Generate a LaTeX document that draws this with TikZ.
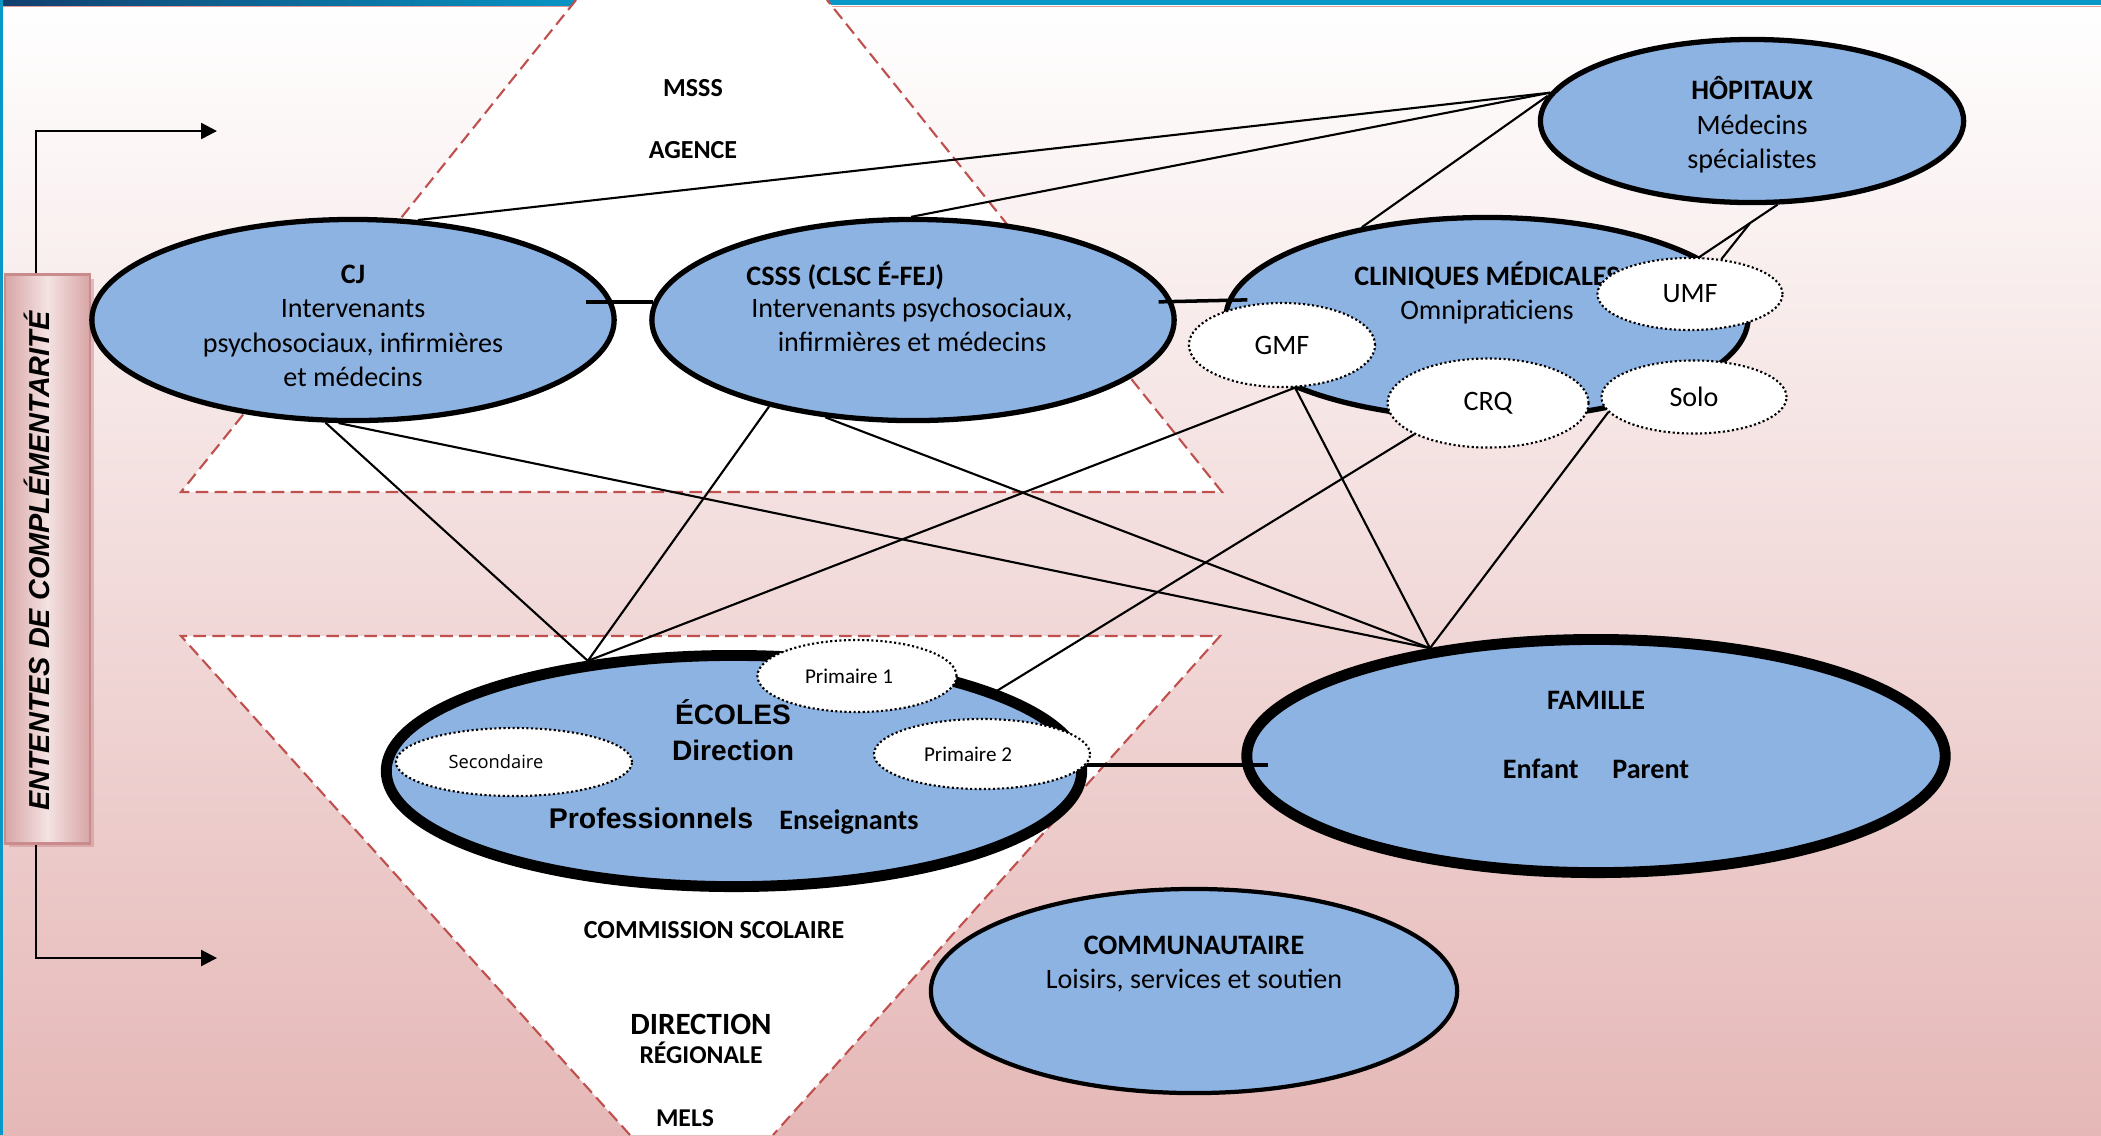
\documentclass[tikz,border=0pt]{standalone}
\usepackage{fontspec}
\setmainfont{Carlito}
\newfontfamily\arialfont{Liberation Sans}
\newfontfamily\opensansfont{Open Sans}
\usetikzlibrary{arrows.meta,shapes.geometric,shadows}
\definecolor{ovalblue}{HTML}{8DB3E2}
\definecolor{pinkbg}{HTML}{E5B8B7}
\definecolor{zonered}{HTML}{C0504D}
\definecolor{bandblue}{HTML}{0798C8}
\definecolor{bandnavy}{HTML}{123F6E}
\definecolor{framepink}{HTML}{E59A9A}
\definecolor{boxlight}{HTML}{F4E2E2}
\definecolor{boxdark}{HTML}{D8A5A6}
\definecolor{boxedge}{HTML}{C98B8C}

\begin{document}
\begin{tikzpicture}[x=0.01cm, y=-0.01cm, >={Triangle[length=4.5pt, width=4.5pt]}]
	\tikzstyle{every node}=[font=\fontsize{8}{9.8}\selectfont]
	\tikzstyle{bigoval}=[ellipse, draw, line width=1.5pt, fill=ovalblue, inner sep=0pt, minimum width=5.22cm, minimum height=2.01cm]
	\tikzstyle{heavyoval}=[bigoval, line width=3.1pt]
	\tikzstyle{subov}=[ellipse, draw, fill=white, line width=0.6pt, dash pattern=on 0.6pt off 0.7pt, inner sep=0pt]
	\tikzstyle{zone}=[fill=white, draw=zonered, line width=0.6pt, dash pattern=on 3.6pt off 1.8pt]
	\tikzstyle{link}=[line width=0.6pt]
	\tikzstyle{bar}=[line width=1pt]
	\tikzstyle{lvl}=[font=\bfseries\fontsize{7.4}{9}\selectfont]
	\tikzstyle{entbox}=[rectangle, draw=boxedge, line width=0.8pt, left color=boxdark, right color=boxdark, middle color=boxlight, inner sep=0pt, minimum width=0.85cm, minimum height=5.68cm, drop shadow={shadow xshift=0.04cm, shadow yshift=-0.04cm, fill=boxedge, opacity=0.5}]

	% fond
	\useasboundingbox (0,0) rectangle (2101,1135);
	\shade[top color=white, bottom color=pinkbg] (0,0) rectangle (2101,1135);
	\shade[left color=bandnavy, right color=bandblue] (0,0) rectangle (600,5);
	\fill[bandblue] (600,0) rectangle (2101,5);
	\draw[framepink, line width=0.5pt] (0,6.5) -- (2101,6.5);
	\fill[bandblue] (0,0) rectangle (2.5,1135);

	% zones MSSS / MELS
	\filldraw[zone] (576,0) -- (181,492) -- (1222,492) -- (827,0);
	\filldraw[zone] (630,1135) -- (181,636) -- (1220,636) -- (773,1135);

	% ententes
	\node[entbox] (ententes) at (47.5,559) {};
	\node[rotate=90, font=\arialfont\bfseries\itshape\fontsize{8.2}{10}\selectfont] (entlabel) at (37,561) {ENTENTES DE COMPLÉMENTARITÉ};
	\coordinate (uptip) at (217,131);
	\coordinate (downtip) at (217,958);
	\draw[line width=0.7pt, ->] ([xshift=-0.115cm]ententes.north) |- (uptip);
	\draw[line width=0.7pt, ->] ([xshift=-0.115cm]ententes.south) |- (downtip);

	% ovales
	\node[bigoval, minimum width=4.23cm, minimum height=1.63cm] (hop) at (1752,121) {};
	\node[bigoval] (cj) at (353,320) {};
	\node[bigoval] (csss) at (913,320) {};
	\node[bigoval] (clin) at (1487,318) {};
	\node[heavyoval, minimum width=6.98cm, minimum height=2.33cm] (famille) at (1596,756) {};
	\node[bigoval, line width=1.2pt, minimum width=5.26cm, minimum height=2.04cm] (comm) at (1194,991) {};
	\node[heavyoval, minimum width=6.95cm, minimum height=2.31cm] (ecoles) at (734,771) {};

	\node[align=center] (hoptxt) at (1752,125) {\textbf{HÔPITAUX}\\Médecins\\spécialistes};
	\node[align=center] (cjtxt) at (353,326) {\textbf{CJ}\\Intervenants\\psychosociaux, infirmières\\et médecins};
	\node[anchor=west, font=\bfseries\fontsize{8}{9.8}\selectfont] (cssstitle) at (734,276) {CSSS (CLSC É-FEJ)};
	\node[align=center] (cssstxt) at (912,325) {Intervenants psychosociaux,\\infirmières et médecins};
	\node[align=center] (clintxt) at (1487,293) {\textbf{CLINIQUES MÉDICALES}\\Omnipraticiens};
	\node[align=center, font=\bfseries\fontsize{8}{9.8}\selectfont] (famtxt) at (1596,735) {FAMILLE\\[10pt]Enfant\hspace{1.2em}Parent};
	\node[align=center] (commtxt) at (1194,964) {\textbf{COMMUNAUTAIRE}\\Loisirs, services et soutien};
	\node[align=center, font=\arialfont\bfseries\fontsize{8}{10.2}\selectfont] (ecotxt) at (733,730) {ÉCOLES\\Direction};
	\node[font=\arialfont\bfseries\fontsize{8.1}{10}\selectfont] (pro) at (651,818) {Professionnels};
	\node[font=\bfseries\fontsize{8}{9.8}\selectfont] (ens) at (849,822) {Enseignants};

	\node[subov, minimum width=1.86cm, minimum height=0.84cm] (gmf) at (1282,345) {GMF};
	\node[subov, minimum width=1.85cm, minimum height=0.72cm] (umf) at (1690,294) {UMF};
	\node[subov, minimum width=2.01cm, minimum height=0.89cm] (crq) at (1488,403) {CRQ};
	\node[subov, minimum width=1.85cm, minimum height=0.73cm] (solo) at (1694,397) {Solo};
	\node[subov, minimum width=2.36cm, minimum height=0.68cm, font=\opensansfont\fontsize{5.2}{6}\selectfont] (sec) at (514,762) {\hspace*{-0.36cm}Secondaire};
	\node[subov, minimum width=1.99cm, minimum height=0.72cm, font=\fontsize{6}{7}\selectfont] (prim1) at (857,676) {\hspace*{-0.16cm}Primaire 1};
	\node[subov, minimum width=2.16cm, minimum height=0.70cm, font=\fontsize{6}{7}\selectfont] (prim2) at (982,754) {\hspace*{-0.28cm}Primaire 2};

	% liens
	\draw[bar] ([xshift=-0.27cm]cj.4) -- (csss.176);
	\draw[bar] ([xshift=-0.14cm]csss.4) -- ([xshift=0.2cm]clin.176);
	\draw[bar] (ecoles.1) -- ([xshift=0.27cm]ecoles.1 -| famille.west);
	\draw[link] (cj.57) -- (hop.172);
	\draw[link] (csss.91) -- (hop.172);
	\draw[link] (clin.144) -- (hop.173);
	\draw[link] (hop.287) -- coordinate[pos=0.35] (fork) (umf.76);
	\draw[link] (fork) -- (umf.48);
	\draw[link] (cj.255) -- (ecoles.143);
	\draw[link] (cj.262) -- (famille.147);
	\draw[link] (csss.211) -- (ecoles.143);
	\draw[link] (csss.228) -- (famille.147);
	\draw[link] (gmf.287) -- (ecoles.143);
	\draw[link] (gmf.287) -- (famille.147);
	\draw[link] (crq.203) -- (ecoles.17);
	\draw[link] (solo.190) -- (famille.147);

	% niveaux
	\node[lvl] (msss) at (693,88) {MSSS};
	\node[lvl] (agence) at (693,150) {AGENCE};
	\node[lvl] (cs) at (714,930) {COMMISSION SCOLAIRE};
	\node[lvl, font=\bfseries\fontsize{8.8}{10}\selectfont] (dir) at (701,1024) {DIRECTION};
	\node[lvl, font=\bfseries\fontsize{7.3}{9}\selectfont] (reg) at (701,1053) {RÉGIONALE};
	\node[lvl, font=\bfseries\fontsize{7.3}{9}\selectfont] (mels) at (685,1118) {MELS};
\end{tikzpicture}
\end{document}
